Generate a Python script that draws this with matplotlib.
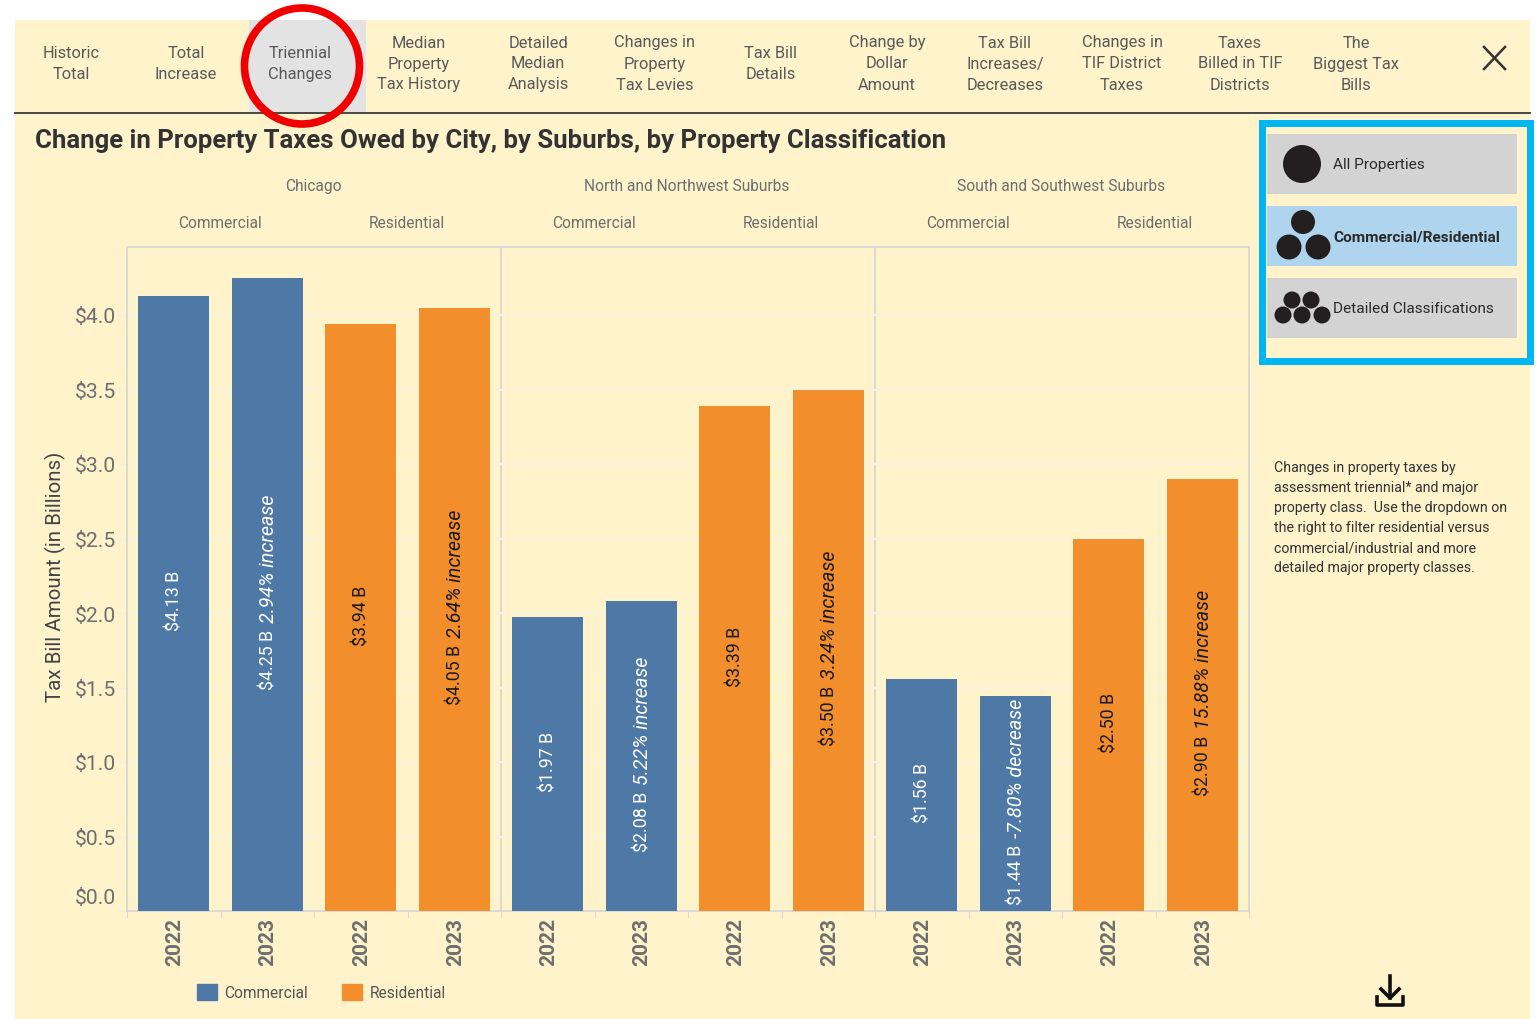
import matplotlib
matplotlib.use('Agg')
import matplotlib.pyplot as plt
from matplotlib.patches import Rectangle, Ellipse, Circle, Patch
from matplotlib.transforms import ScaledTranslation

plt.rcParams['font.family'] = ['Roboto', 'DejaVu Sans']

# Data
years = ['2022', '2023'] * 6
values = [4.13, 4.25, 3.94, 4.05, 1.97, 2.08, 3.39, 3.50, 1.56, 1.44, 2.50, 2.90]
changes = ['', '2.94% increase', '', '2.64% increase', '', '5.22% increase',
           '', '3.24% increase', '', '-7.80% decrease', '', '15.88% increase']
classes = ['Commercial', 'Residential'] * 3
regions = ['Chicago', 'North and Northwest Suburbs', 'South and Southwest Suburbs']
y_ticks = [0.0, 0.5, 1.0, 1.5, 2.0, 2.5, 3.0, 3.5, 4.0]

nav_labels = ['Historic\nTotal', 'Total\nIncrease', 'Triennial\nChanges',
              'Median\nProperty\nTax History', 'Detailed\nMedian\nAnalysis',
              'Changes in\nProperty\nTax Levies', 'Tax Bill\nDetails',
              'Change by\nDollar\nAmount', 'Tax Bill\nIncreases/\nDecreases',
              'Changes in\nTIF District\nTaxes', 'Taxes\nBilled in TIF\nDistricts',
              'The\nBiggest Tax\nBills']
nav_x = [71, 186, 300, 419, 538, 655, 771, 887, 1005, 1122, 1240, 1356]
side_note = ['Changes in property taxes by', 'assessment triennial* and major',
             'property class.  Use the dropdown on', 'the right to filter residential versus',
             'commercial/industrial and more', 'detailed major property classes.']

BG = '#FFF3CC'
BLUE = '#4E79A7'
ORANGE = '#F28E2B'
GRAY = '#6E6E6E'
DARK = '#333333'
W, H = 1537, 1020

fig = plt.figure(figsize=(W / 100, H / 100), dpi=100, facecolor='white')

# page furniture is drawn in pixel coordinates
bg = fig.add_axes([0, 0, 1, 1])
bg.set_xlim(0, W)
bg.set_ylim(H - 1, -1)
bg.axis('off')
bg.add_patch(Rectangle((15, 20), 1515, 1000, fc=BG, ec='none'))
bg.add_patch(Rectangle((249, 20), 117, 92, fc='#E3E3E3', ec='none'))
bg.plot([15, 1530], [112.5, 112.5], color='#3A3A3A', lw=1.3)
for x, label in zip(nav_x, nav_labels):
    bg.text(x, 63, label, ha='center', va='center', fontsize=11.8,
            color='#595959', linespacing=1.5)
bg.add_patch(Ellipse((302, 66), 115, 116, fc='none', ec='#F00000', lw=5.5, zorder=5))
bg.plot([1484, 1505], [47, 69], color=DARK, lw=1.8)
bg.plot([1484, 1505], [69, 47], color=DARK, lw=1.8)
bg.text(35, 140, 'Change in Property Taxes Owed by City, by Suburbs, by Property Classification',
        fontsize=18.5, fontweight='bold', color=DARK, va='center')

# filter buttons
bg.add_patch(Rectangle((1262, 122.5), 268, 238, fc='none', ec='#00B6F1', lw=5, zorder=4))
for y, col, label, weight in [(134, '#D3D3D3', 'All Properties', 'normal'),
                              (206, '#AED4EE', 'Commercial/Residential', 'bold'),
                              (278, '#D3D3D3', 'Detailed Classifications', 'normal')]:
    bg.add_patch(Rectangle((1267, y), 250, 60, fc=col, ec='none'))
    bg.text(1333, y + 30, label, fontsize=11.1, fontweight=weight, va='center', color='#2A2A2A')
for cx, cy, r in [(1302, 164, 19), (1303, 222, 12), (1289, 247, 12.5), (1318, 247, 12.5),
                  (1292, 300, 8.5), (1311, 300, 8.5), (1283, 315, 8.5), (1302, 315, 8.5),
                  (1322, 315, 8.5)]:
    bg.add_patch(Circle((cx, cy), r, fc='#231F20', ec='none'))

for i, line in enumerate(side_note):
    bg.text(1274, 467 + i * 20.1, line, fontsize=10.2, va='center', color=DARK)

# download icon
bg.plot([1390, 1390], [976, 998], color='#111111', lw=2.6)
bg.plot([1381, 1390, 1399], [989, 998, 989], color='#111111', lw=2.6)
bg.plot([1377, 1377, 1403, 1403], [997, 1005, 1005, 997], color='#111111', lw=2.6)

# chart
ax = fig.add_axes([127 / W, 1 - 912 / H, (1249 - 127) / W, (912 - 248) / H])
ax.patch.set_alpha(0)
ax.set_xlim(-0.5, 11.5)
ax.set_ylim(0, (912 - 248) / 149)
x = list(range(len(values)))
colors = [BLUE, BLUE, ORANGE, ORANGE] * 3
ax.bar(x, values, width=0.76, color=colors, zorder=3)

# the $0.0 label sits above its tick, so it is placed separately
ax.set_yticks(y_ticks)
ax.set_yticklabels(['$%.1f' % v if v else '' for v in y_ticks], fontsize=15.2, color=GRAY)
ax.annotate('$%.1f' % y_ticks[0], xy=(0, y_ticks[0]), xycoords=('axes fraction', 'data'),
            xytext=(-11, 14), textcoords='offset pixels', ha='right', va='center',
            fontsize=15.2, color=GRAY, annotation_clip=False)
ax.set_xticks(x)
ax.set_xticklabels(years, rotation=90, fontsize=15, fontweight='bold', color=GRAY)
ax.set_xticks([i - 0.5 for i in range(13)], minor=True)
ax.tick_params(axis='x', which='major', length=0, pad=4)
ax.tick_params(axis='x', which='minor', length=5, color='#D6D6D6')
ax.tick_params(axis='y', length=7, color='#EFEFE6', pad=1)
shift = ScaledTranslation(1 / 100, 0, fig.dpi_scale_trans)
for lab in ax.get_xticklabels():
    lab.set_transform(lab.get_transform() + shift)
ax.grid(axis='y', color='#F7F3E3', lw=1.2, zorder=0)
ax.set_ylabel('Tax Bill Amount (in Billions)', fontsize=14.8, color='#444444')
ax.yaxis.set_label_coords((66 - 127) / (1249 - 127), (912 - 577) / 664)
for s in ax.spines.values():
    s.set_color('#D6D6D6')
    s.set_linewidth(1.2)
for v in [3.5, 7.5]:
    ax.axvline(v, color='#D6D6D6', lw=1.2, zorder=1)

# header rows above the panels
tr = ax.get_xaxis_transform()
for i, name in enumerate(regions):
    ax.text(1.49 + 4 * i, 1.0925, name, transform=tr, ha='center', va='center',
            fontsize=11.2, color=GRAY, clip_on=False)
for i, name in enumerate(classes):
    ax.text(0.49 + 2 * i, 1.0365, name, transform=tr, ha='center', va='center',
            fontsize=11.2, color=GRAY, clip_on=False)

# bar labels: value upright, change in italics, stacked along the bar
fig.canvas.draw()
renderer = fig.canvas.get_renderer()
gap = 7
for xi, v, change, c in zip(x, values, changes, colors):
    col = 'white' if c == BLUE else '#1A1A1A'
    t1 = ax.text(xi + 0.012, 0, '$%.2f B' % v, rotation=90, ha='center', va='bottom', fontsize=12.8,
                 color=col, zorder=4, clip_on=False)
    h1 = t1.get_window_extent(renderer).height
    h2 = 0
    if change:
        t2 = ax.text(xi + 0.012, 0, change, rotation=90, ha='center', va='bottom', fontsize=14.2,
                     style='italic', color=col, zorder=4, clip_on=False)
        h2 = t2.get_window_extent(renderer).height + gap
    start = v * 149 / 2 + 3 - (h1 + h2) / 2
    t1.set_y(start / 149)
    if change:
        t2.set_y((start + h1 + gap) / 149)

handles = [Patch(color=BLUE, label='Commercial'), Patch(color=ORANGE, label='Residential')]
fig.legend(handles=handles, ncol=2, frameon=False, fontsize=11.2, labelcolor='#555555',
           loc='center left', bbox_to_anchor=(183 / W, 1 - 993 / H),
           handlelength=1.3, handleheight=1.3, handletextpad=0.45, columnspacing=2.2)

fig.savefig('out.png', dpi=100)
